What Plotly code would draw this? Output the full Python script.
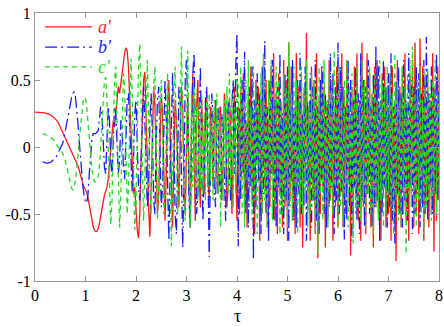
import plotly.graph_objects as go

# time step of the sampled trajectories (tau)
TAU_STEP = 0.025

# a' (red, solid) sampled from tau = 0
a_vals = [
    0.26, 0.26, 0.26, 0.26, 0.26, 0.26, 0.26, 0.255, 0.255, 0.25, 0.25, 0.245, 0.24, 0.235, 0.23,
    0.22, 0.21, 0.20, 0.19, 0.17, 0.15, 0.13, 0.11, 0.09, 0.07, 0.05, 0.03, 0.01, -0.01,
    -0.04, -0.06, -0.08, -0.10, -0.12, -0.14,
    -0.17, -0.21, -0.25, -0.28, -0.30, -0.32,
    -0.34, -0.38, -0.44, -0.50, -0.55, -0.59, -0.62, -0.63, -0.63, -0.61,
    -0.57, -0.51, -0.45, -0.40, -0.36, -0.33, -0.30, -0.24,
    -0.14, -0.02, 0.1, 0.2, 0.15, 0.25, 0.35, 0.45, 0.40, 0.48, 0.55, 0.62, 0.70, 0.74, 0.72,
    0.6, 0.35, 0.05, -0.2, -0.35, -0.3, -0.45, -0.62, -0.68, -0.5, -0.1, 0.25, 0.5, 0.56, 0.3,
    # 2.2 - 3.0
    -0.1, -0.45, -0.67, -0.3, 0.2, 0.45, 0.3, -0.15, -0.5, -0.35, 0.1, 0.4, 0.25, -0.2, -0.55, -0.2,
    0.3, 0.5, 0.1, -0.4, -0.6, -0.1, 0.35, 0.2, -0.25, -0.45, 0.05, 0.45, 0.3, -0.3, -0.5, 0.1,
    # 3.0 - 4.0
    0.4, -0.3, -0.6, 0.2, 0.55, -0.1, -0.55, 0.3, 0.5, -0.2, -0.45, 0.35, 0.1, -0.35, 0.25, 0.4,
    -0.25, -0.4, 0.3, 0.2, -0.3, 0.15, 0.35, -0.2, -0.35, 0.25, 0.3, -0.4, -0.1, 0.4, 0.25, -0.45,
    -0.3, 0.35, 0.2, -0.5, 0.1, 0.45, -0.2, -0.55,
    # 4.0 - 8.0
    0.3, -0.5, 0.45, -0.2, 0.55, -0.45, 0.2, -0.6, 0.4, -0.3,
    0.6, -0.4, 0.25, -0.65, 0.5, -0.1, 0.45, -0.7, 0.35, -0.5,
    0.65, -0.3, 0.5, -0.6, 0.2, -0.45, 0.6, -0.2, 0.7, -0.55,
    0.4, -0.65, 0.55, -0.35, 0.3, -0.6, 0.65, -0.45, 0.5, -0.7,
    0.78, -0.4, 0.6, -0.55, 0.25, -0.65, 0.7, -0.3, 0.45, -0.6,
    0.55, -0.75, 0.4, -0.2, 0.85, -0.5, 0.3, -0.7, 0.6, -0.4,
    0.5, -0.65, 0.7, -0.83, 0.35, -0.5, 0.6, -0.3, 0.45, -0.75,
    0.3, -0.55, 0.65, -0.4, 0.5, -0.7, 0.25, -0.45, 0.6, -0.6,
    0.55, -0.35, 0.7, -0.6, 0.4, -0.5, 0.65, -0.25, 0.3, -0.81,
    0.45, -0.6, 0.6, -0.4, 0.7, -0.55, 0.35, -0.7, 0.78, -0.45,
    0.5, -0.65, 0.7, -0.3, 0.55, -0.6, 0.4, -0.75, 0.6, -0.45,
    0.65, -0.5, 0.3, -0.7, 0.55, -0.35, 0.6, -0.6, 0.45, -0.5,
    0.5, -0.7, 0.6, -0.4, 0.35, -0.85, 0.65, -0.5, 0.45, -0.6,
    0.6, -0.45, 0.7, -0.55, 0.3, -0.7, 0.55, -0.35, 0.65, -0.6,
    0.78, -0.5, 0.4, -0.65, 0.81, -0.4, 0.6, -0.7, 0.5, -0.45,
    0.55, -0.6, 0.35, -0.5, 0.7, -0.78, 0.45, -0.55, 0.6, -0.4,
]

# b' (blue, dash-dot) - no samples before tau = 0.15
b_vals = [None] * 6 + [
    -0.11, -0.115, -0.12, -0.12, -0.12, -0.12, -0.115, -0.11, -0.10, -0.09, -0.08,
    -0.07, -0.05, -0.03, -0.01, 0.0, 0.03,
    0.07, 0.12, 0.17, 0.22, 0.28, 0.33, 0.37, 0.40, 0.41, 0.38, 0.30,
    0.18, 0.05, -0.08, -0.2, -0.3, -0.37, -0.41, -0.42, -0.35,
    -0.2, -0.05, 0.05, 0.1, 0.1, 0.1, 0.11, 0.12, 0.2, 0.3,
    0.25, 0.05, -0.15, -0.2, 0.1, 0.3, 0.2, -0.1, -0.22, 0.0, 0.3, 0.25, -0.05, -0.2, -0.1, 0.2,
    0.15, -0.15, -0.24, 0.05, 0.35, 0.4, 0.1, -0.2, -0.33, -0.1, 0.25, 0.35, 0.05, -0.3, -0.4, -0.1,
    0.3, 0.45, 0.2, -0.2,
    # 2.2 - 3.0
    -0.45, -0.3, 0.2, 0.4, 0.1, -0.4, -0.5, 0.05, 0.35, 0.45, 0.0, -0.45, -0.3, 0.25, 0.5, 0.2,
    -0.35, -0.7, -0.2, 0.3, 0.55, 0.1, -0.5, -0.65, 0.0, 0.45, 0.35, -0.3, -0.75, -0.2, 0.5, 0.65,
    # 3.0 - 4.0
    0.3, -0.4, -0.6, 0.1, 0.55, 0.7, 0.0, -0.5, -0.35, 0.3, 0.6, -0.1, -0.55, -0.2, 0.35, 0.45,
    -0.3, -0.82, -0.1, 0.4, 0.2, -0.3, -0.45, 0.2, 0.3, -0.25, -0.35, 0.25, 0.15, -0.3, -0.55, 0.1,
    0.35, -0.2, -0.4, 0.3, 0.5, -0.2, 0.6, 0.85,
    # 4.0 - 8.0
    -0.74, 0.3, -0.4, 0.5, -0.2, 0.71, -0.5, 0.2, -0.6, 0.45,
    -0.3, 0.6, -0.84, 0.35, -0.45, 0.55, -0.25, 0.4, -0.65, 0.6,
    -0.35, 0.79, -0.5, 0.3, -0.7, 0.5, -0.2, 0.65, -0.55, 0.35,
    -0.6, 0.45, -0.3, 0.7, -0.5, 0.25, -0.65, 0.55, -0.4, 0.6,
    -0.7, 0.4, -0.25, 0.65, -0.55, 0.3, -0.6, 0.5, -0.35, 0.7,
    -0.5, 0.25, -0.45, 0.6, -0.7, 0.35, -0.3, 0.55, -0.6, 0.45,
    -0.4, 0.65, -0.55, 0.3, -0.65, 0.5, -0.25, 0.6, -0.5, 0.4,
    -0.6, 0.35, -0.45, 0.7, -0.3, 0.55, -0.65, 0.45, -0.4, 0.78,
    -0.5, 0.6, -0.35, 0.45, -0.69, 0.3, -0.55, 0.65, -0.45, 0.5,
    -0.7, 0.35, -0.3, 0.6, -0.55, 0.4, -0.65, 0.7, -0.4, 0.5,
    -0.6, 0.45, -0.35, 0.65, -0.5, 0.3, -0.6, 0.55, -0.45, 0.75,
    -0.4, 0.6, -0.7, 0.35, -0.5, 0.65, -0.3, 0.45, -0.6, 0.55,
    -0.45, 0.7, -0.55, 0.3, -0.72, 0.5, -0.35, 0.6, -0.5, 0.4,
    -0.6, 0.65, -0.4, 0.35, -0.55, 0.7, -0.3, 0.5, -0.65, 0.45,
    -0.5, 0.6, -0.35, 0.55, -0.6, 0.4, -0.45, 0.65, -0.5, 0.82,
    -0.55, 0.4, -0.3, 0.6, -0.5, 0.45, -0.35, 0.7, -0.4, 0.5,
]

# c' (green, dashed) - no samples before tau = 0.15
c_vals = [None] * 6 + [
    0.10, 0.10, 0.095, 0.09, 0.085, 0.08, 0.075, 0.07, 0.06, 0.05, 0.04, 0.02, 0.0,
    -0.01, -0.02, -0.03, -0.05, -0.07, -0.1, -0.14, -0.19, -0.24, -0.28, -0.31, -0.32,
    -0.30, -0.25, -0.17, -0.07, 0.05, 0.16, 0.26, 0.33, 0.37, 0.36,
    0.3, 0.2, 0.08, -0.05, -0.16, -0.23, -0.26, -0.26,
    -0.25, -0.22,
    -0.15, 0.0, 0.2, 0.38, 0.5, 0.52, 0.35, 0.0,
    -0.35, -0.58, -0.4, 0.1, 0.5, 0.6, 0.2, -0.3, -0.6, -0.35, 0.2, 0.55, 0.45, -0.1, -0.5,
    -0.3, 0.3, 0.66, 0.4, -0.2, -0.62, -0.4, 0.2, 0.6, 0.77, 0.3, -0.3, -0.55, -0.2, 0.4,
    # 2.2 - 3.0
    0.65, 0.2, -0.3, -0.5, -0.1, 0.45, 0.6, 0.1, -0.54, -0.3, 0.3, 0.5, 0.0, -0.5, -0.35, 0.25,
    0.55, 0.2, -0.45, -0.74, -0.2, 0.4, 0.6, 0.1, -0.5, -0.3, 0.35, 0.75, 0.2, -0.4, -0.55, 0.1,
    # 3.0 - 4.0
    0.72, -0.2, -0.6, 0.4, -0.3, 0.45, -0.35, 0.3, -0.4, 0.35,
    -0.3, 0.4, -0.35, 0.25, -0.4, 0.35, -0.3, 0.4, -0.25, 0.3,
    -0.4, 0.35, -0.3, 0.4, -0.35, 0.3, -0.6, 0.25, -0.4, 0.35,
    -0.3, 0.45, -0.35, 0.55, -0.3, 0.4, -0.45, 0.3, -0.35, 0.5,
    # 4.0 - 8.0
    0.45, -0.3, 0.6, -0.5, 0.35, -0.6, 0.5, -0.25, 0.65, -0.45,
    0.3, -0.55, 0.6, -0.4, 0.45, -0.65, 0.35, -0.3, 0.55, -0.5,
    0.7, -0.4, 0.3, -0.6, 0.5, -0.35, 0.65, -0.55, 0.4, -0.45,
    0.6, -0.3, 0.5, -0.65, 0.35, -0.5, 0.55, -0.4, 0.45, -0.6,
    0.78, -0.45, 0.4, -0.55, 0.6, -0.3, 0.5, -0.65, 0.35, -0.45,
    0.6, -0.5, 0.45, -0.35, 0.65, -0.6, 0.3, -0.5, 0.55, -0.4,
    0.5, -0.65, 0.4, -0.79, 0.6, -0.35, 0.45, -0.55, 0.65, -0.45,
    0.35, -0.6, 0.55, -0.4, 0.5, -0.5, 0.72, -0.3, 0.4, -0.6,
    0.6, -0.45, 0.35, -0.55, 0.5, -0.4, 0.65, -0.6, 0.45, -0.35,
    0.55, -0.72, 0.4, -0.5, 0.6, -0.45, 0.3, -0.55, 0.65, -0.4,
    0.5, -0.6, 0.45, -0.35, 0.6, -0.5, 0.4, -0.65, 0.55, -0.45,
    0.35, -0.55, 0.65, -0.4, 0.5, -0.6, 0.45, -0.5, 0.6, -0.35,
    0.55, -0.45, 0.4, -0.65, 0.7, -0.4, 0.5, -0.55, 0.35, -0.6,
    0.6, -0.5, 0.45, -0.8, 0.55, -0.35, 0.65, -0.45, 0.75, -0.55,
    0.4, -0.6, 0.5, -0.4, 0.6, -0.5, 0.35, -0.65, 0.55, -0.45,
    0.6, -0.4, 0.45, -0.55, 0.5, -0.35, 0.65, -0.5, 0.4, -0.3,
]

x_ticks = [0, 1, 2, 3, 4, 5, 6, 7, 8]
y_ticks = [-1, -0.5, 0, 0.5, 1]
y_tick_text = ["-1", "-0.5", "0", "0.5", "1"]

series = [
    ("a'", a_vals, "#ff1a1a", "solid"),
    ("b'", b_vals, "#1a1aff", "12px,4px,2px,4px"),
    ("c'", c_vals, "#22dd22", "5px,4px"),
]

# a single family name: plotly quotes the whole string, so no fallback list
SERIF = "Liberation Serif"

fig = go.Figure()
for name, vals, color, dash in series:
    tau = [round(i * TAU_STEP, 3) for i in range(len(vals))]
    fig.add_trace(go.Scatter(
        x=tau, y=vals, mode="lines", name=name,
        line={"color": color, "width": 1.3, "dash": dash},
        showlegend=False,
    ))

# hand-drawn legend in the upper left corner (matches the long sample lines)
leg_y = [0.948, 0.873, 0.799]
for (name, _, color, dash), yy in zip(series, leg_y):
    fig.add_shape(type="line", xref="paper", yref="paper",
                  x0=0.025, x1=0.141, y0=yy, y1=yy,
                  line={"color": color, "width": 1.3, "dash": dash})
    fig.add_annotation(xref="paper", yref="paper", x=0.152, y=yy,
                       text=f"<i>{name}</i>", showarrow=False,
                       xanchor="left", yanchor="middle",
                       font={"family": SERIF, "size": 18, "color": color})

axis_common = dict(
    showline=True, linecolor="#999999", linewidth=1, mirror="ticks",
    ticks="inside", ticklen=5, tickcolor="#999999",
    showgrid=False, zeroline=False, automargin=False,
    tickfont={"family": SERIF, "size": 16, "color": "black"},
)
fig.update_xaxes(range=[0, 8], tickvals=x_ticks, **axis_common)
fig.update_yaxes(range=[-1, 1], tickvals=y_ticks, ticktext=y_tick_text, **axis_common)

# axis title placed below the tick labels
fig.add_annotation(xref="paper", yref="paper", x=0.5, y=-0.086,
                   text="τ", showarrow=False, xanchor="center", yanchor="top",
                   font={"family": SERIF, "size": 18, "color": "black"})

fig.update_layout(
    width=444, height=327,
    margin={"l": 35, "r": 5, "t": 13, "b": 46},
    plot_bgcolor="white", paper_bgcolor="white",
    showlegend=False,
    font={"family": SERIF},
)

# drop the default page margin so the figure sits at the window's top-left corner
fig.write_html("out.html", post_script="document.body.style.margin='0';",
               config={"displayModeBar": False})
